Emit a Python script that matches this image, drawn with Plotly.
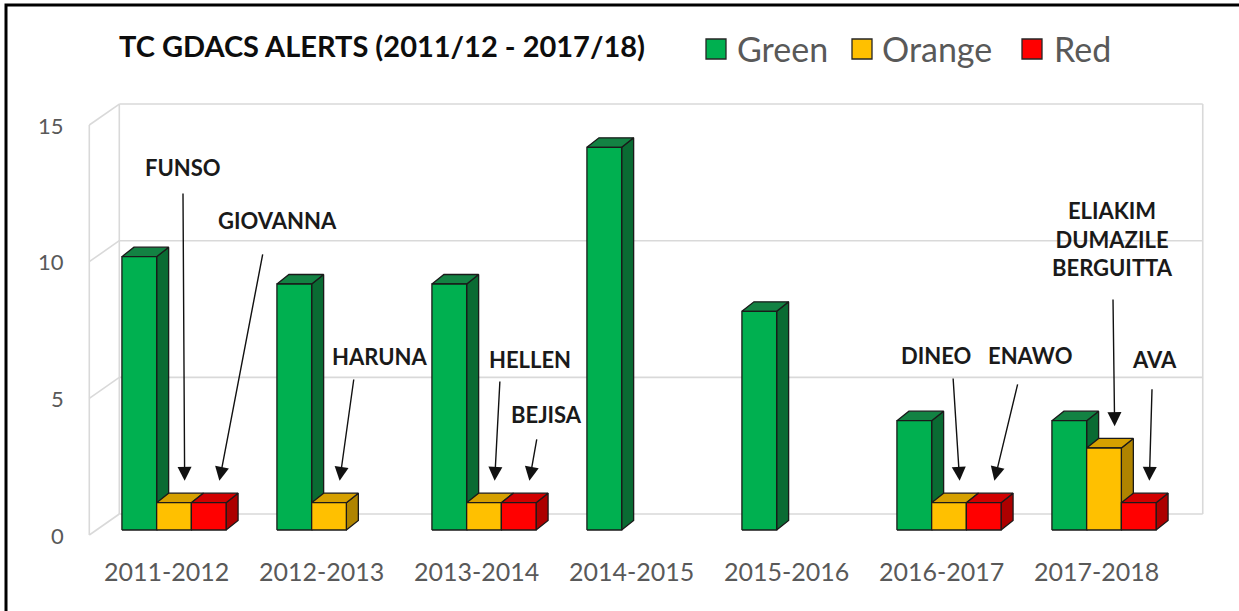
import plotly.graph_objects as go

# ---------------- data ----------------
seasons = ["2011-2012", "2012-2013", "2013-2014", "2014-2015", "2015-2016", "2016-2017", "2017-2018"]
green = [10, 9, 9, 14, 8, 4, 4]
orange = [1, 1, 1, 0, 0, 1, 3]
red = [1, 0, 1, 0, 0, 1, 1]
y_ticks = [0, 5, 10, 15]
title_text = "TC GDACS ALERTS (2011/12 - 2017/18)"
series_names = ["Green", "Orange", "Red"]

# storm-name callouts: (text, season index, series index)
storm_labels = [
    ("FUNSO", 0, 1),
    ("GIOVANNA", 0, 2),
    ("HARUNA", 1, 1),
    ("HELLEN", 2, 1),
    ("BEJISA", 2, 2),
    ("DINEO", 5, 1),
    ("ENAWO", 5, 2),
    ("ELIAKIM<br>DUMAZILE<br>BERGUITTA", 6, 1),
    ("AVA", 6, 2),
]
# label / arrow-tail placement (data units), layout only
label_pos = [(0.055, 13.28), (0.665, 11.34), (1.329, 6.33), (2.297, 6.22), (2.40, 4.21),
             (4.916, 6.37), (5.523, 6.37), (6.052, 10.65), (6.329, 6.22)]
tail_pos = [(0.058, 12.37), (0.574, 10.14), (1.161, 5.56), (2.103, 5.49), (2.342, 3.37),
            (5.026, 5.60), (5.445, 5.38), (6.058, 8.49), (6.31, 5.20)]

# ---------------- styling ----------------
W, H = 1239, 611
X_RANGE = [-1.1226, 6.871]
Y_RANGE = [-2.964, 19.39]
BAR_W = 0.224
DX, DY = 0.0774, 0.348           # bar depth offsets
WDX, WDY = 0.1935, 0.768         # wall depth (front->back) per unit depth
FRONT_T, BACK_T = -0.24, 0.76
WALL_L, WALL_R = -0.5, 6.49
FONT = "Lato"
GRID = "#d9d9d9"
TXT = "#595959"

face_colors = {
    "Green": ("#00b050", "#138243", "#0a6b33"),
    "Orange": ("#ffc000", "#d6a000", "#b08400"),
    "Red": ("#ff0000", "#d10000", "#ad0000"),
}
values = [green, orange, red]

fig = go.Figure()


def wall_pt(x, v, t):
    return x + WDX * t, v + WDY * t


# ----- 3D box walls -----
ymax = max(y_ticks)
wx, wy = [], []
for v in y_ticks:
    x0, y0 = wall_pt(WALL_L, v, BACK_T)
    x1, y1 = wall_pt(WALL_R, v, BACK_T)
    wx += [x0, x1, None]
    wy += [y0, y1, None]
for xe in (WALL_L, WALL_R):
    x0, y0 = wall_pt(xe, 0, BACK_T)
    x1, y1 = wall_pt(xe, ymax, BACK_T)
    wx += [x0, x1, None]
    wy += [y0, y1, None]
x0, y0 = wall_pt(WALL_L, 0, FRONT_T)
x1, y1 = wall_pt(WALL_L, ymax, FRONT_T)
wx += [x0, x1, None]
wy += [y0, y1, None]
for v in y_ticks:
    x0, y0 = wall_pt(WALL_L, v, FRONT_T)
    x1, y1 = wall_pt(WALL_L, v, BACK_T)
    wx += [x0, x1, None]
    wy += [y0, y1, None]
fig.add_trace(go.Scatter(x=wx, y=wy, mode="lines", line=dict(color=GRID, width=1.6),
                         hoverinfo="skip", showlegend=False))

# ----- 3D bars -----
for k, (name, vals) in enumerate(zip(series_names, values)):
    front_c, top_c, side_c = face_colors[name]
    fx, fy, tx, ty, sx, sy = [], [], [], [], [], []
    for i, v in enumerate(vals):
        if v <= 0:
            continue
        xl = i + (k - 1.5) * BAR_W
        xr = xl + BAR_W
        fx += [xl, xr, xr, xl, xl, None]
        fy += [0, 0, v, v, 0, None]
        tx += [xl, xr, xr + DX, xl + DX, xl, None]
        ty += [v, v, v + DY, v + DY, v, None]
        sx += [xr, xr + DX, xr + DX, xr, xr, None]
        sy += [0, DY, v + DY, v, 0, None]
    for px_, py_, col in ((sx, sy, side_c), (tx, ty, top_c), (fx, fy, front_c)):
        fig.add_trace(go.Scatter(x=px_, y=py_, mode="lines", fill="toself", fillcolor=col,
                                 line=dict(color="#1a1a1a", width=1.3),
                                 hoverinfo="skip", showlegend=False, name=name))

annotations = []
# ----- y tick labels (front edge of left wall) -----
for v in y_ticks:
    annotations.append(dict(x=-0.70, y=v + WDY * FRONT_T, xref="x", yref="y", text=str(v),
                            showarrow=False, xanchor="right", yanchor="middle",
                            font=dict(family=FONT, size=22, color=TXT)))
# ----- category labels -----
for i, s in enumerate(seasons):
    annotations.append(dict(x=i + WDX * FRONT_T, y=-1.50, xref="x", yref="y", text=s,
                            showarrow=False, xanchor="center", yanchor="middle",
                            font=dict(family=FONT, size=25, color=TXT)))

# ----- storm callouts -----
for (txt, ci, si), (lx, ly), (ax_, ay_) in zip(storm_labels, label_pos, tail_pos):
    v = values[si][ci]
    tip_x = ci + (si - 1) * BAR_W + DX / 2 + 0.03
    tip_y = v + DY + 0.45
    annotations.append(dict(x=lx, y=ly, xref="x", yref="y", text=f"<b>{txt}</b>",
                            showarrow=False, xanchor="center", yanchor="middle",
                            font=dict(family=FONT, size=22, color="#1a1a1a")))
    annotations.append(dict(x=tip_x, y=tip_y, xref="x", yref="y", ax=ax_, ay=ay_,
                            axref="x", ayref="y", text="", showarrow=True,
                            arrowhead=2, arrowsize=2.0, arrowwidth=1.4, arrowcolor="#111111",
                            standoff=0, startstandoff=0))


def px(xp):
    return xp / W


def py(yp):
    return 1 - yp / H


# ----- title -----
annotations.append(dict(x=px(117), y=py(46), xref="paper", yref="paper",
                        text=f"<b>{title_text}</b>", showarrow=False,
                        xanchor="left", yanchor="middle",
                        font=dict(family=FONT, size=29, color="#0d0d0d")))

# ----- custom legend -----
shapes = []
legend_sq = [706, 852, 1022]
legend_tx = [735, 880, 1052]
for name, sx_, tx_ in zip(series_names, legend_sq, legend_tx):
    shapes.append(dict(type="rect", xref="paper", yref="paper",
                       x0=px(sx_), x1=px(sx_ + 20), y0=py(59), y1=py(39),
                       fillcolor=face_colors[name][0], line=dict(color="#262626", width=1.3)))
    annotations.append(dict(x=px(tx_), y=py(48), xref="paper", yref="paper", text=name,
                            showarrow=False, xanchor="left", yanchor="middle",
                            font=dict(family=FONT, size=34, color=TXT)))

# outer frame: only left and top edges are visible in the picture
shapes.append(dict(type="path", xref="paper", yref="paper",
                   path=f"M {px(6)},-0.05 L {px(6)},{py(5)} L 1.05,{py(5)}",
                   line=dict(color="black", width=3)))

fig.update_layout(
    width=W, height=H, autosize=False,
    margin=dict(l=0, r=0, t=0, b=0),
    paper_bgcolor="white", plot_bgcolor="white",
    xaxis=dict(range=X_RANGE, visible=False, fixedrange=True),
    yaxis=dict(range=Y_RANGE, visible=False, fixedrange=True),
    showlegend=False,
    annotations=annotations,
    shapes=shapes,
)

fig.write_html("out.html",
               config={"displayModeBar": False},
               post_script="document.body.style.margin='0';document.body.style.overflow='hidden';")
